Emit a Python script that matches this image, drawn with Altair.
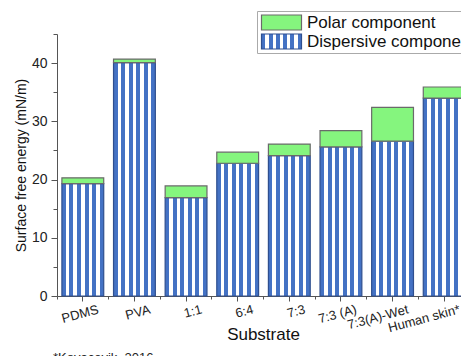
import altair as alt
import pandas as pd

substrates = ["PDMS", "PVA", "1:1", "6:4", "7:3", "7:3 (A)", "7:3(A)-Wet", "Human skin*"]
dispersive = [19.3, 40.1, 16.9, 22.8, 24.1, 25.6, 26.6, 34.0]
polar = [1.0, 0.6, 2.0, 1.9, 2.0, 2.8, 5.8, 1.9]
components = ["Polar component", "Dispersive component"]
y_major = [0, 10, 20, 30, 40]
y_minor = [5, 15, 25, 35, 45]

rows = []
for s, d, p in zip(substrates, dispersive, polar):
    rows.append({"substrate": s, "component": "Dispersive component", "value": d, "ord": 0})
    rows.append({"substrate": s, "component": "Polar component", "value": p, "ord": 1})
df = pd.DataFrame(rows)

BLUE = "#4472C4"
GREEN = "#85F57E"
FONT = "Liberation Sans"

# vertical stripe pattern built as a hard-stop linear gradient
n_white = 5
b = 0.095
w = (1 - (n_white + 1) * b) / n_white
stops = []
pos = 0.0
for i in range(n_white + 1):
    stops.append(f"{{offset: {pos:.4f}, color: '{BLUE}'}}")
    pos += b
    stops.append(f"{{offset: {pos:.4f}, color: '{BLUE}'}}")
    if i < n_white:
        stops.append(f"{{offset: {pos:.4f}, color: '#ffffff'}}")
        pos += w
        stops.append(f"{{offset: {pos:.4f}, color: '#ffffff'}}")
grad_expr = "{gradient: 'linear', x1: 0, y1: 0, x2: 1, y2: 0, stops: [" + ", ".join(stops) + "]}"

legend = alt.Legend(
    title=None,
    orient="none",
    legendX=200,
    legendY=-23,
    symbolType="M-4,-1.5H4V1.5H-4Z",
    symbolSize=100,
    symbolOffset=13,
    symbolStrokeWidth=1.2,
    symbolOpacity=1,
    labelFontSize=17,
    labelFont=FONT,
    labelColor="#111",
    labelOffset=17,
    labelLimit=400,
    clipHeight=17,
    rowPadding=1,
    padding=3,
    strokeColor="#aaaaaa",
    fillColor="white",
)

x_main = alt.X(
    "substrate:N",
    sort=substrates,
    scale=alt.Scale(paddingInner=0.19, paddingOuter=0.095, range=[0, 413]),
    axis=alt.Axis(
        orient="bottom",
        title="Substrate",
        titleFont=FONT,
        titleFontSize=17,
        titleFontWeight="normal",
        titleColor="#111",
        titleBaseline="alphabetic",
        titleY=43,
        titleX=206,
        labelAngle=345,
        labelAlign="right",
        labelBaseline="top",
        labelOffset=14,
        labelPadding=2,
        labelFont=FONT,
        labelFontSize=13,
        labelColor="#222",
        tickSize=5,
        tickColor="#555",
        domainColor="#555",
        labelOverlap=False,
    ),
)

y_main = alt.Y(
    "value:Q",
    stack="zero",
    scale=alt.Scale(domain=[0, 45], nice=False),
    axis=alt.Axis(
        orient="left",
        values=y_major,
        title="Surface free energy (mN/m)",
        titleFont=FONT,
        titleFontSize=14,
        titleFontWeight="normal",
        titleColor="#111",
        titleAngle=270,
        titleBaseline="alphabetic",
        titleX=-32,
        titleY=131,
        labelFont=FONT,
        labelFontSize=14,
        labelColor="#222",
        labelPadding=4,
        tickSize=6,
        tickColor="#555",
        domainColor="#555",
        grid=False,
    ),
)

bars = alt.Chart(df).mark_bar(strokeWidth=1.2).encode(
    x=x_main,
    y=y_main,
    order=alt.Order("ord:Q"),
    fill=alt.Fill(
        "component:N",
        scale=alt.Scale(domain=components, range=[GREEN, alt.ExprRef(grad_expr)]),
        legend=legend,
    ),
    stroke=alt.Stroke(
        "component:N",
        scale=alt.Scale(domain=components, range=["#6a6a6a", "#2F4F8F"]),
        legend=legend,
    ),
)

minor = alt.Chart(df).mark_point(opacity=0).encode(
    x=alt.X(
        "substrate:N",
        sort=substrates,
        axis=alt.Axis(
            orient="bottom",
            bandPosition=-0.117,
            labels=False,
            domain=False,
            title=None,
            tickSize=3,
            tickColor="#555",
        ),
    ),
    y=alt.Y(
        "value:Q",
        axis=alt.Axis(
            orient="left",
            values=y_minor,
            labels=False,
            domain=False,
            title=None,
            tickSize=4,
            tickColor="#555",
            grid=False,
        ),
    ),
)

chart = (
    alt.layer(bars, minor)
    .resolve_axis(x="independent", y="independent")
    .properties(
        width=404,
        height=262,
        autosize=alt.AutoSizeParams(type="none"),
        padding={"left": 49, "top": 26, "right": 0, "bottom": 60},
        title=alt.TitleParams(
            "*Kovacevik, 2016",
            orient="bottom",
            anchor="start",
            frame="group",
            dx=-4,
            offset=10,
            font=FONT,
            fontSize=13,
            fontWeight="normal",
            color="#222",
        ),
    )
    .configure_view(stroke=None)
)

chart.save("out.html", embed_options={"renderer": "svg", "actions": False})
